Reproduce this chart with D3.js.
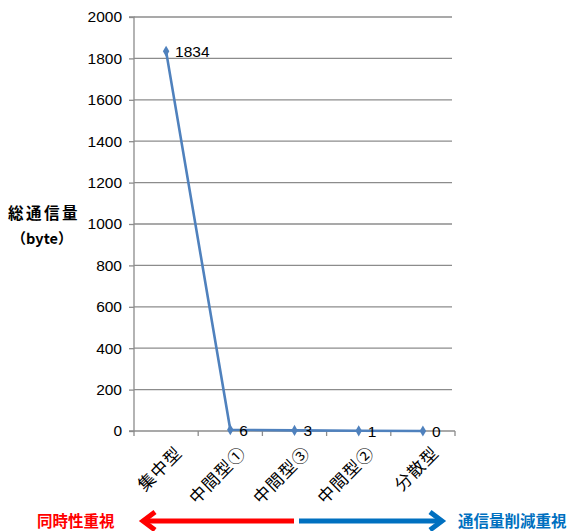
<!DOCTYPE html>
<html><head><meta charset="utf-8">
<script src="https://cdn.jsdelivr.net/npm/d3@7"></script>
<style>body{margin:0;background:#fff}svg{display:block}</style>
</head><body>
<svg id="c" width="581" height="531"></svg>
<script>
const categories = ["集中型", "中間型①", "中間型③", "中間型②", "分散型"];
const values = [1834, 6, 3, 1, 0];
const yTicks = [0, 200, 400, 600, 800, 1000, 1200, 1400, 1600, 1800, 2000];
const yTitle = ["総通信量", "（byte）"];
const leftNote = "同時性重視";
const rightNote = "通信量削減重視";

const svg = d3.select("#c");
const font = "'Liberation Sans', 'Noto Sans CJK JP', sans-serif";
const jp = "'Noto Sans CJK JP', sans-serif";
const L = 134, R = 455, T = 17, B = 431;

const x = d3.scaleBand().domain(categories).range([L, R]);
const y = d3.scaleLinear().domain([0, 2000]).range([B, T]);

// gridlines
svg.append("g").selectAll("line").data(yTicks.filter(d => d > 0)).join("line")
  .attr("x1", L).attr("x2", R - 3).attr("y1", d => y(d)).attr("y2", d => y(d))
  .attr("stroke", "#8c8c8c").attr("stroke-width", 1.3);

// y axis
const ya = svg.append("g").attr("transform", `translate(${L},0)`)
  .call(d3.axisLeft(y).tickValues(yTicks).tickFormat(d3.format("d")).tickSize(5).tickPadding(7));
ya.select(".domain").attr("stroke", "#8c8c8c").attr("stroke-width", 1.3).attr("d", `M-5,${B}H0V${T}H-5`);
ya.selectAll(".tick line").attr("stroke", "#8c8c8c").attr("stroke-width", 1.3);
ya.selectAll("text").attr("font-family", font).attr("font-size", 15.5).attr("fill", "#000");

// x axis
const xa = svg.append("g").attr("transform", `translate(0,${B})`);
xa.append("line").attr("x1", L).attr("x2", R).attr("y1", 0).attr("y2", 0)
  .attr("stroke", "#8c8c8c").attr("stroke-width", 1.3);
const bounds = categories.map(c => x(c)).concat([R]);
xa.selectAll("line.t").data(bounds).join("line").attr("class", "t")
  .attr("x1", d => d).attr("x2", d => d).attr("y1", 0).attr("y2", 5)
  .attr("stroke", "#8c8c8c").attr("stroke-width", 1.3);
xa.selectAll("text").data(categories).join("text")
  .attr("transform", d => `translate(${x(d) + x.bandwidth() / 2 + 8},14) rotate(-45)`)
  .attr("text-anchor", "end").attr("dy", "0.75em")
  .attr("font-family", jp).attr("font-size", 17).attr("letter-spacing", 1)
  .text(d => d);

// line
const cx = d => x(d) + x.bandwidth() / 2;
svg.append("path").datum(values.map((v, i) => [categories[i], v]))
  .attr("fill", "none").attr("stroke", "#4f81bd").attr("stroke-width", 2.6)
  .attr("d", d3.line().x(d => cx(d[0])).y(d => y(d[1])));
svg.append("g").selectAll("path").data(values.map((v, i) => [categories[i], v])).join("path")
  .attr("transform", d => `translate(${cx(d[0])},${y(d[1])})`)
  .attr("d", d3.symbol(d3.symbolDiamond, 36)).attr("fill", "#4f81bd");

// value labels
svg.append("g").selectAll("text").data(values.map((v, i) => [categories[i], v])).join("text")
  .attr("x", d => cx(d[0]) + 9).attr("y", d => y(d[1]) + 6)
  .attr("font-family", font).attr("font-size", 15.5).text(d => d[1]);

// y title
svg.append("text").attr("x", 44).attr("y", 219).attr("text-anchor", "middle")
  .attr("font-family", jp).attr("font-weight", "bold")
  .attr("font-size", 15.5).attr("letter-spacing", 2.5).text(yTitle[0]);
svg.append("text").attr("x", 42).attr("y", 244).attr("text-anchor", "middle")
  .attr("font-family", jp).attr("font-weight", "bold")
  .attr("font-size", 14.5).text(yTitle[1]);

// direction arrows
const ay = 521;
function arrow(x1, x2, color) {
  const dir = Math.sign(x2 - x1);
  svg.append("line").attr("x1", x1).attr("x2", x2 - dir * 3).attr("y1", ay).attr("y2", ay)
    .attr("stroke", color).attr("stroke-width", 5);
  svg.append("path")
    .attr("d", `M${x2 - dir * 12},${ay - 9}L${x2},${ay}L${x2 - dir * 12},${ay + 9}`)
    .attr("fill", "none").attr("stroke", color).attr("stroke-width", 5)
    .attr("stroke-linejoin", "miter").attr("stroke-linecap", "butt");
}
arrow(294, 143, "#ff0000");
arrow(299, 442, "#0070c0");
svg.append("text").attr("x", 37).attr("y", 527)
  .attr("font-family", jp).attr("font-weight", "bold")
  .attr("font-size", 15.5).attr("fill", "#ff0000").text(leftNote);
svg.append("text").attr("x", 458).attr("y", 527)
  .attr("font-family", jp).attr("font-weight", "bold")
  .attr("font-size", 15.5).attr("fill", "#0070c0").text(rightNote);
</script>
</body></html>
